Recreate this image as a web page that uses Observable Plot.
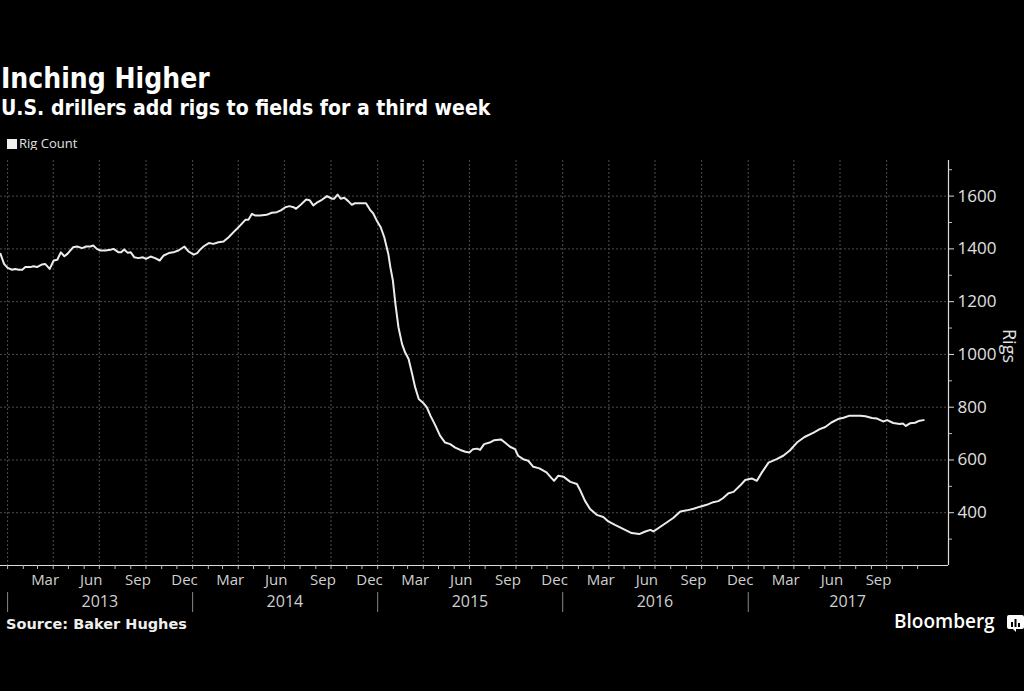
<!DOCTYPE html>
<html><head><meta charset="utf-8">
<script src="https://cdn.jsdelivr.net/npm/d3@7"></script>
<script src="https://cdn.jsdelivr.net/npm/@observablehq/plot@0.6"></script>
<style>
html,body{margin:0;padding:0;background:#000;width:1024px;height:691px;overflow:hidden;}
.abs{position:absolute;white-space:nowrap;line-height:1;}
.hd{font-family:"DejaVu Sans Condensed","DejaVu Sans",sans-serif;font-stretch:condensed;font-weight:bold;color:#fff;}
#title{left:1px;top:65px;font-size:28px;}
#subtitle{left:1px;top:98px;font-size:21px;}
#legend{left:7px;top:137px;font-family:"Open Sans",sans-serif;font-size:13px;color:#e0e0e0;}
#legend .sw{display:inline-block;width:10px;height:10px;background:#f0f0f0;margin-right:2px;vertical-align:-1px;}
#source{left:6px;top:617px;font-family:"DejaVu Sans",sans-serif;font-weight:bold;font-size:14.5px;color:#eee;}
#brand{left:894px;top:612px;font-family:"Open Sans",sans-serif;font-weight:600;font-size:19px;color:#fff;}
#icon{left:1007px;top:615px;}
#chart{left:0;top:150px;}
</style></head>
<body>
<div id="title" class="abs hd">Inching Higher</div>
<div id="subtitle" class="abs hd">U.S. drillers add rigs to fields for a third week</div>
<div id="legend" class="abs"><span class="sw"></span>Rig Count</div>
<div id="chart" class="abs"></div>
<div id="source" class="abs">Source: Baker Hughes</div>
<div id="brand" class="abs">Bloomberg</div>
<svg id="icon" class="abs" width="17" height="17" viewBox="0 0 17 17"><rect x="0" y="0" width="17" height="14" rx="2" fill="#fff"/><path d="M6 14 L9 17 L9 14Z" fill="#fff"/><rect x="4" y="7" width="2" height="5" fill="#000"/><rect x="7.5" y="4" width="2" height="8" fill="#000"/><rect x="11" y="8" width="2" height="4" fill="#000"/></svg>
<script>
const dates = ["2012-12-18","2012-12-25","2013-01-01","2013-01-10","2013-01-16","2013-01-23","2013-01-30","2013-02-05","2013-02-15","2013-02-21","2013-02-28","2013-03-10","2013-03-16","2013-03-25","2013-04-02","2013-04-09","2013-04-16","2013-04-23","2013-04-29","2013-05-10","2013-05-18","2013-05-28","2013-06-05","2013-06-13","2013-06-19","2013-06-26","2013-07-03","2013-07-13","2013-07-23","2013-07-29","2013-08-08","2013-08-13","2013-08-19","2013-08-26","2013-09-01","2013-09-08","2013-09-16","2013-09-25","2013-10-01","2013-10-10","2013-10-19","2013-10-28","2013-11-05","2013-11-15","2013-11-24","2013-12-04","2013-12-16","2013-12-24","2014-01-03","2014-01-10","2014-01-16","2014-01-23","2014-02-02","2014-02-11","2014-02-21","2014-03-03","2014-03-13","2014-03-26","2014-04-05","2014-04-15","2014-04-21","2014-04-28","2014-05-04","2014-05-14","2014-05-27","2014-06-06","2014-06-16","2014-06-24","2014-07-03","2014-07-11","2014-07-19","2014-07-24","2014-08-01","2014-08-13","2014-08-20","2014-08-27","2014-09-03","2014-09-13","2014-09-23","2014-10-03","2014-10-07","2014-10-14","2014-10-20","2014-10-27","2014-11-04","2014-11-11","2014-11-17","2014-11-27","2014-12-09","2014-12-17","2014-12-23","2014-12-30","2015-01-07","2015-01-14","2015-01-22","2015-01-26","2015-01-31","2015-02-05","2015-02-11","2015-02-18","2015-02-24","2015-03-03","2015-03-10","2015-03-16","2015-03-23","2015-04-02","2015-04-08","2015-04-15","2015-04-25","2015-05-04","2015-05-14","2015-05-24","2015-06-03","2015-06-13","2015-06-23","2015-07-01","2015-07-08","2015-07-16","2015-07-22","2015-07-30","2015-08-10","2015-08-19","2015-09-01","2015-09-09","2015-09-19","2015-09-29","2015-10-05","2015-10-15","2015-10-25","2015-11-04","2015-11-16","2015-11-30","2015-12-10","2015-12-15","2015-12-23","2016-01-03","2016-01-16","2016-01-29","2016-02-05","2016-02-14","2016-02-24","2016-03-08","2016-03-21","2016-03-31","2016-04-13","2016-04-27","2016-05-16","2016-05-31","2016-06-12","2016-06-22","2016-06-28","2016-07-11","2016-07-24","2016-08-06","2016-08-20","2016-09-02","2016-09-15","2016-09-28","2016-10-11","2016-10-24","2016-11-03","2016-11-12","2016-11-23","2016-12-03","2016-12-16","2016-12-26","2017-01-08","2017-01-18","2017-01-28","2017-02-10","2017-02-26","2017-03-11","2017-03-24","2017-04-07","2017-04-22","2017-05-10","2017-05-22","2017-06-02","2017-06-14","2017-06-27","2017-07-08","2017-07-20","2017-08-10","2017-08-20","2017-09-02","2017-09-12","2017-09-24","2017-10-02","2017-10-14","2017-10-27","2017-11-02","2017-11-08","2017-11-16","2017-11-26","2017-12-05","2017-12-13"];
const rigCount = [1381,1343,1328,1321,1324,1321,1321,1331,1331,1334,1331,1341,1343,1324,1356,1359,1387,1372,1381,1406,1409,1403,1409,1409,1413,1400,1394,1394,1397,1400,1387,1387,1398,1385,1387,1368,1365,1368,1362,1371,1365,1356,1375,1384,1387,1394,1409,1390,1378,1384,1398,1410,1422,1419,1425,1428,1444,1470,1489,1510,1510,1533,1527,1527,1529,1537,1539,1546,1558,1562,1558,1552,1565,1587,1584,1565,1575,1586,1600,1590,1590,1606,1590,1594,1581,1567,1573,1573,1573,1548,1535,1508,1482,1444,1381,1331,1280,1192,1103,1040,1008,983,926,875,831,814,799,768,730,692,666,660,647,638,631,628,641,643,638,660,666,675,678,666,650,641,616,603,597,574,568,553,531,521,540,536,517,509,483,445,414,392,384,367,354,341,323,319,329,335,329,346,363,380,405,409,415,423,430,440,444,455,474,479,503,524,530,521,553,590,603,616,636,666,687,704,717,725,742,755,760,768,768,766,759,757,746,751,740,736,738,729,739,741,749,751];

const xDomain = ["2012-12-18", "2018-01-31"];
const yDomain = [200, 1735];
const yGridValues = [200, 400, 600, 800, 1000, 1200, 1400, 1600];
const yTickValues = [400, 600, 800, 1000, 1200, 1400, 1600];
const yMinorValues = [300, 500, 700, 900, 1100, 1300, 1500, 1700];
const monthLabelDates = ["2013-03-16","2013-06-15","2013-09-15","2013-12-16","2014-03-16","2014-06-15","2014-09-15","2014-12-16","2015-03-16","2015-06-15","2015-09-15","2015-12-16","2016-03-16","2016-06-15","2016-09-15","2016-12-16","2017-03-16","2017-06-15","2017-09-15"];
const monthLabels = ["Mar","Jun","Sep","Dec","Mar","Jun","Sep","Dec","Mar","Jun","Sep","Dec","Mar","Jun","Sep","Dec","Mar","Jun","Sep"];
const yearStarts = ["2013-01-01","2014-01-01","2015-01-01","2016-01-01","2017-01-01"];
const yearLabelDates = ["2013-07-02","2014-07-02","2015-07-02","2016-07-01","2017-07-16"];
const yearLabels = ["2013","2014","2015","2016","2017"];
const gridStart = "2013-01-01", gridEnd = "2017-12-31";

const P = s => new Date(s + "T00:00:00Z");
const data = dates.map((d, i) => ({date: P(d), value: rigCount[i]}));
const xd = xDomain.map(P);
const quarterGrid = d3.utcMonth.every(3).range(P(gridStart), P(gridEnd));
const monthTicks = d3.utcMonth.range(P(gridStart), P(gridEnd));
const monthMap = new Map(monthLabelDates.map((d, i) => [+P(d), monthLabels[i]]));
const yearMap = new Map(yearLabelDates.map((d, i) => [+P(d), yearLabels[i]]));

const gridColor = "#4d4d4d";
const chart = Plot.plot({
  width: 1024, height: 470,
  marginTop: 10, marginBottom: 55, marginLeft: 0, marginRight: 76,
  style: {background: "#000", color: "#d0d0d0", fontFamily: "'Open Sans', sans-serif", fontSize: "16px"},
  x: {type: "utc", domain: xd, label: null},
  y: {domain: yDomain, label: null},
  marks: [
    Plot.ruleY(yGridValues, {stroke: gridColor, strokeDasharray: "2,2"}),
    Plot.ruleX(quarterGrid, {stroke: gridColor, strokeDasharray: "2,2"}),
    Plot.ruleY([yDomain[0]], {stroke: "#dcdcdc", strokeWidth: 1.2}),
    Plot.ruleX([xd[1]], {stroke: "#dcdcdc", strokeWidth: 1.2}),
    Plot.axisX(monthTicks, {tickSize: 4, fill: "none", stroke: "#bbb", label: null}),
    Plot.axisX(monthLabelDates.map(P), {tickSize: 0, tickPadding: 9, tickFormat: d => monthMap.get(+d), fill: "#d0d0d0", fontSize: 15, label: null}),
    Plot.axisX(yearStarts.map(P), {tickSize: 20, dy: 27, fill: "none", stroke: "#888", label: null}),
    Plot.axisX(yearLabelDates.map(P), {tickSize: 0, tickPadding: 30, tickFormat: d => yearMap.get(+d), fill: "#d0d0d0", fontSize: 16, label: null}),
    Plot.axisY(yTickValues, {anchor: "right", tickSize: 5, tickPadding: 4, tickFormat: d3.format("d"), stroke: "#dcdcdc", fill: "#e0e0e0", fontSize: 17, label: null}),
    Plot.axisY(yMinorValues, {anchor: "right", tickSize: 3, fill: "none", stroke: "#bbb", label: null}),
    Plot.text(["Rigs"], {frameAnchor: "right", text: d => d, rotate: 90, dx: 60, fontSize: 18, fill: "#e0e0e0"}),
    Plot.line(data, {x: "date", y: "value", stroke: "#ececec", strokeWidth: 2})
  ]
});
document.getElementById("chart").appendChild(chart);
</script>
</body></html>
